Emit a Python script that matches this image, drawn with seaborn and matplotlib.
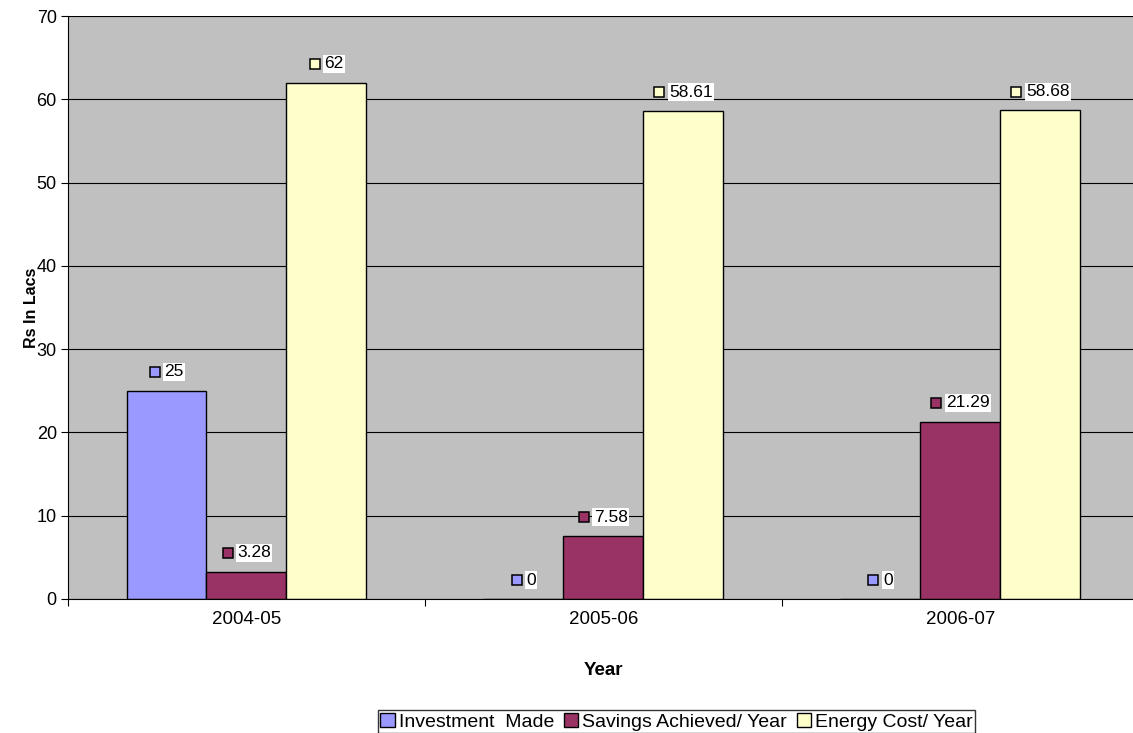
import matplotlib
matplotlib.use("Agg")
import matplotlib.pyplot as plt
import matplotlib.transforms as mtransforms
from matplotlib.patches import Patch
import seaborn as sns
import pandas as pd

years = ["2004-05", "2005-06", "2006-07"]
series = ["Investment  Made", "Savings Achieved/ Year", "Energy Cost/ Year"]
investment = [25, 0, 0]
savings = [3.28, 7.58, 21.29]
energy = [62, 58.61, 58.68]
value_labels = [["25", "0", "0"], ["3.28", "7.58", "21.29"], ["62", "58.61", "58.68"]]
colors = ["#9999FF", "#993366", "#FFFFCC"]

rows = []
for s, vals in zip(series, [investment, savings, energy]):
    for y, v in zip(years, vals):
        rows.append({"Year": y, "Series": s, "Value": v})
df = pd.DataFrame(rows)

sns.set_theme(style="white")
plt.rcParams["font.family"] = ["Liberation Sans", "DejaVu Sans"]
plt.rcParams["text.color"] = "black"
plt.rcParams["axes.labelcolor"] = "black"
plt.rcParams["xtick.color"] = "black"
plt.rcParams["ytick.color"] = "black"

fig = plt.figure(figsize=(11.33, 7.33), dpi=100)
ax = fig.add_axes([0.060, 0.183, 0.945, 0.795])
ax.set_facecolor("#C0C0C0")

sns.barplot(data=df, x="Year", y="Value", hue="Series", hue_order=series,
            palette=colors, width=0.672, edgecolor="black", linewidth=1.0,
            saturation=1, ax=ax, legend=False, zorder=2)

ax.set_ylim(0, 70)
ax.set_xlim(-0.5, 2.5)
ax.set_yticks(range(0, 71, 10))
ax.yaxis.grid(True, color="black", linewidth=0.8, zorder=1)
ax.set_axisbelow(True)
for sp in ["top", "right"]:
    ax.spines[sp].set_visible(False)
for sp in ["left", "bottom"]:
    ax.spines[sp].set_color("black")
    ax.spines[sp].set_linewidth(0.8)

ax.set_xticks([0, 1, 2])
ax.set_xticklabels(years, fontsize=13.5)
ax.set_xticks([-0.5, 0.5, 1.5, 2.5], minor=True)
ax.tick_params(axis="x", which="major", length=0, pad=9)
ax.tick_params(axis="x", which="minor", length=5, width=0.8, color="black", direction="out", bottom=True)
ax.tick_params(axis="y", length=5, width=0.8, color="black", direction="out", left=True, labelsize=13, pad=3)

ax.set_xlabel("Year", fontsize=13.5, fontweight="bold", labelpad=24)
ax.set_ylabel("Rs In Lacs", fontsize=11.5, fontweight="bold", labelpad=-2)

# data labels: small series square + value, group centred over each bar
fig.canvas.draw()
renderer = fig.canvas.get_renderer()
px2pt = 72.0 / fig.dpi
sq_px = 11.0
gap_px = 4.0
y_off = 13.5
for ci, cont in enumerate(ax.containers):
    for bi, patch in enumerate(cont.patches):
        xc = patch.get_x() + patch.get_width() / 2
        top = patch.get_height()
        txt = ax.annotate(value_labels[ci][bi], xy=(xc, top), xytext=(0, y_off),
                          textcoords="offset points", ha="left", va="center", fontsize=12.5,
                          bbox=dict(boxstyle="square,pad=0.08", facecolor="white", edgecolor="none"),
                          zorder=6, annotation_clip=False)
        w = txt.get_window_extent(renderer).width
        total = sq_px + gap_px + w
        left = -total / 2.0
        txt.xyann = ((left + sq_px + gap_px) * px2pt, y_off)
        mtrans = mtransforms.offset_copy(ax.transData, fig=fig,
                                         x=(left + sq_px / 2.0) * px2pt, y=y_off, units="points")
        ax.plot([xc], [top], marker="s", markersize=(sq_px - 1.5) * px2pt,
                markerfacecolor=colors[ci], markeredgecolor="black", markeredgewidth=1.1,
                transform=mtrans, clip_on=False, zorder=5)

handles = [Patch(facecolor=c, edgecolor="black", linewidth=1.0) for c in colors]
leg = fig.legend(handles, series, loc="lower center", bbox_to_anchor=(0.597, 0.0),
                 ncol=3, fontsize=14, frameon=True, fancybox=False,
                 handlelength=0.75, handleheight=0.75, handletextpad=0.2,
                 columnspacing=0.5, borderpad=0.12, borderaxespad=0.0)
leg.get_frame().set_edgecolor("black")
leg.get_frame().set_linewidth(1.0)

fig.savefig("out.png", dpi=100)
